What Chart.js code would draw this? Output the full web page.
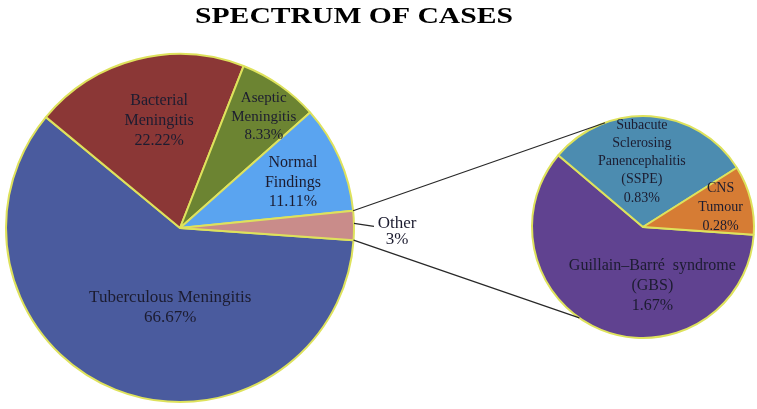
<!DOCTYPE html>
<html>
<head>
<meta charset="utf-8">
<script src="https://cdn.jsdelivr.net/npm/chart.js@4.4.1/dist/chart.umd.min.js"></script>
<style>
  body { margin: 0; background: #fff; }
  #wrap { position: relative; width: 757px; height: 409px; }
  canvas { position: absolute; left: 0; top: 0; }
</style>
</head>
<body>
<div id="wrap">
  <canvas id="mainPie" width="757" height="409"></canvas>
  <canvas id="otherPie" width="757" height="409"></canvas>
</div>
<script>
// data
const chartTitle = 'SPECTRUM OF CASES';
const mainLabels = ['Tuberculous Meningitis', 'Bacterial Meningitis', 'Aseptic Meningitis', 'Normal Findings', 'Other'];
const mainValues = [66.67, 22.22, 8.33, 11.11, 3];
const otherLabels = ['Guillain–Barré syndrome (GBS)', 'Subacute Sclerosing Panencephalitis (SSPE)', 'CNS Tumour'];
const otherValues = [1.67, 0.83, 0.28];

// how the names wrap inside the slices
const mainLines = [['Tuberculous Meningitis'], ['Bacterial', 'Meningitis'], ['Aseptic', 'Meningitis'], ['Normal', 'Findings'], ['Other']];
const otherLines = [['Guillain–Barré  syndrome', '(GBS)'], ['Subacute', 'Sclerosing', 'Panencephalitis', '(SSPE)'], ['CNS', 'Tumour']];

const mainColors = ['rgb(74,91,158)', 'rgb(139,55,54)', 'rgb(108,132,50)', 'rgb(90,164,240)', 'rgb(201,140,138)'];
const otherColors = ['rgb(96,66,144)', 'rgb(76,140,176)', 'rgb(214,124,52)'];
const edgeColor = 'rgb(222,226,92)';
const textColor = 'rgb(28,28,48)';

// label spot per slice: angle (deg, screen), fraction of radius, font px, line height
const mainSpots = [[97, 0.46, 17, 20], [259, 0.63, 16, 20], [307, 0.80, 15, 18.5], [338, 0.70, 16, 19.5], null];
const otherSpots = [[81, 0.54, 16, 20], [269, 0.59, 14, 18.2], [346, 0.72, 14, 19]];

const fmt = v => Number.isInteger(v) ? v + '%' : v.toFixed(2) + '%';

function drawSliceLabels(chart, lines, values, spots) {
  const ctx = chart.ctx;
  const arcs = chart.getDatasetMeta(0).data;
  ctx.save();
  ctx.fillStyle = textColor;
  ctx.textAlign = 'center';
  ctx.textBaseline = 'middle';
  arcs.forEach((arc, i) => {
    const s = spots[i];
    if (!s) return;
    const a = s[0] * Math.PI / 180;
    const cx = arc.x + Math.cos(a) * arc.outerRadius * s[1];
    const cy = arc.y + Math.sin(a) * arc.outerRadius * s[1];
    const rows = lines[i].concat([fmt(values[i])]);
    ctx.font = s[2] + 'px "Liberation Serif", "Times New Roman", serif';
    const top = cy - (rows.length - 1) * s[3] / 2;
    rows.forEach((t, k) => ctx.fillText(t, cx, top + k * s[3]));
  });
  ctx.restore();
}

const mainChart = new Chart(document.getElementById('mainPie'), {
  type: 'pie',
  data: {
    labels: mainLabels,
    datasets: [{ data: mainValues, backgroundColor: mainColors, borderColor: edgeColor, borderWidth: 2 }]
  },
  options: {
    responsive: false,
    animation: false,
    rotation: 94,
    layout: { padding: { left: 5, top: 53, right: 402, bottom: 6 } },
    plugins: { legend: { display: false }, tooltip: { enabled: false } }
  },
  plugins: [{
    id: 'mainText',
    afterDatasetsDraw(chart) { drawSliceLabels(chart, mainLines, mainValues, mainSpots); }
  }]
});

const otherChart = new Chart(document.getElementById('otherPie'), {
  type: 'pie',
  data: {
    labels: otherLabels,
    datasets: [{ data: otherValues, backgroundColor: otherColors, borderColor: edgeColor, borderWidth: 2 }]
  },
  options: {
    responsive: false,
    animation: false,
    rotation: 94,
    layout: { padding: { left: 531, top: 115, right: 2, bottom: 70 } },
    plugins: { legend: { display: false }, tooltip: { enabled: false } }
  },
  plugins: [{
    id: 'joinAndTitle',
    afterDatasetsDraw(chart) {
      drawSliceLabels(chart, otherLines, otherValues, otherSpots);
      const ctx = chart.ctx;
      const big = mainChart.getDatasetMeta(0).data;
      const o = big[big.length - 1];
      const small = chart.getDatasetMeta(0).data[0];
      const R = o.outerRadius, r = small.outerRadius;
      const p = (c, rad, ang) => [c.x + Math.cos(ang) * rad, c.y + Math.sin(ang) * rad];
      const deg = Math.PI / 180;

      ctx.save();
      ctx.strokeStyle = 'rgb(40,40,40)';
      ctx.lineWidth = 1.2;
      // connector lines from the "Other" slice to the breakout pie
      const a1 = p(o, R, o.startAngle), b1 = p(small, r, 250 * deg);
      const a2 = p(o, R, o.endAngle), b2 = p(small, r, 125 * deg);
      ctx.beginPath();
      ctx.moveTo(a1[0], a1[1]); ctx.lineTo(b1[0], b1[1]);
      ctx.moveTo(a2[0], a2[1]); ctx.lineTo(b2[0], b2[1]);
      // leader for the Other label
      const mid = p(o, R, (o.startAngle + o.endAngle) / 2);
      ctx.moveTo(mid[0], mid[1] - 2);
      ctx.lineTo(mid[0] + 20, mid[1] + 1);
      ctx.stroke();

      ctx.fillStyle = textColor;
      ctx.textAlign = 'center';
      ctx.textBaseline = 'middle';
      ctx.font = '17px "Liberation Serif", "Times New Roman", serif';
      ctx.fillText(mainLines[4][0], mid[0] + 43, mid[1] - 2);
      ctx.fillText(fmt(mainValues[4]), mid[0] + 43, mid[1] + 14);

      // title, stretched wide like the source image
      ctx.fillStyle = '#000';
      ctx.font = 'bold 23px "Liberation Serif", "Times New Roman", serif';
      ctx.textBaseline = 'alphabetic';
      const w = ctx.measureText(chartTitle).width;
      ctx.translate(354, 23);
      ctx.scale(318 / w, 1);
      ctx.fillText(chartTitle, 0, 0);
      ctx.restore();
    }
  }]
});
</script>
</body>
</html>
